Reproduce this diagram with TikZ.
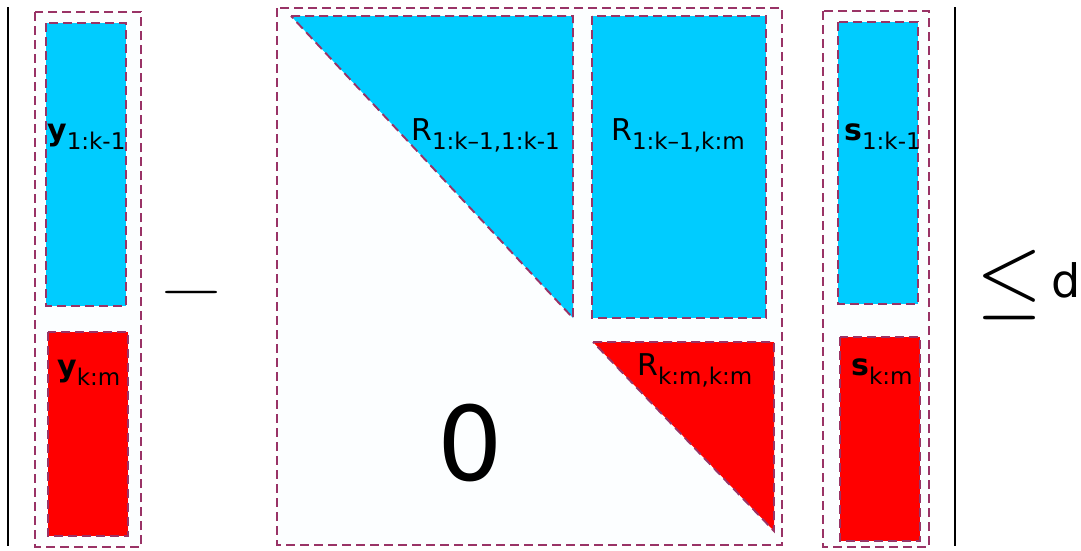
\documentclass[tikz,border=0pt]{standalone}
\usepackage{fontspec}
\setmainfont{DejaVu Sans}
\definecolor{blockblue}{RGB}{0,204,255}
\definecolor{blockred}{RGB}{255,0,0}
\definecolor{dashpurple}{RGB}{153,51,102}
\definecolor{paper}{RGB}{252,254,255}
\tikzset{
  frame/.style={draw=dashpurple, dash pattern=on 9pt off 5pt, line width=1.9pt},
  lbl/.style={anchor=base west, inner sep=0pt, font=\fontsize{30}{30}\selectfont},
}
\newcommand{\sublbl}[1]{\raisebox{-9pt}{\fontsize{23}{23}\selectfont #1}}
\begin{document}
\begin{tikzpicture}[x=1pt, y=-1pt]
  \useasboundingbox (0,0) rectangle (1081,550);
  % Betragsstriche
  \draw[line width=2.5pt] (8,7) -- (8,546);
  \draw[line width=2.5pt] (955,7) -- (955,546);
  % Vektor y
  \filldraw[frame, fill=paper] (35,12) rectangle (141,547);
  \filldraw[frame, fill=blockblue] (46,23) rectangle (126,306);
  \filldraw[frame, fill=blockred] (48,332) rectangle (128,536);
  \node[lbl] (ytop) at (47,140) {\textbf{y}\sublbl{1:k-1}};
  \node[lbl] (ybot) at (57,376) {\textbf{y}\sublbl{k:m}};
  % Minus
  \node[inner sep=0pt] (minus) at (192,292) {\scalebox{8.5}[6]{$-$}};
  % Matrix R (obere Dreiecksform)
  \filldraw[frame, fill=paper] (277,8) rectangle (782,545);
  \filldraw[frame, fill=blockblue] (291,16) -- (573,16) -- (573,318) -- cycle;
  \filldraw[frame, fill=blockblue] (592,16) rectangle (766,318);
  \filldraw[frame, fill=blockred] (593,342) -- (774,342) -- (774,531) -- cycle;
  \node[lbl] (rtl) at (411,140) {R\sublbl{1:k–1,1:k-1}};
  \node[lbl] (rtr) at (611,140) {R\sublbl{1:k–1,k:m}};
  \node[lbl] (rbr) at (637,375) {R\sublbl{k:m,k:m}};
  \node[anchor=base, inner sep=0pt, font=\fontsize{103}{103}\selectfont] (zero) at (470,480) {0};
  % Vektor s
  \filldraw[frame, fill=paper] (823,11) rectangle (929,547);
  \filldraw[frame, fill=blockblue] (838,22) rectangle (918,304);
  \filldraw[frame, fill=blockred] (840,337) rectangle (920,541);
  \node[lbl] (stop) at (844,140) {\textbf{s}\sublbl{1:k-1}};
  \node[lbl] (sbot) at (851,375) {\textbf{s}\sublbl{k:m}};
  % Schranke
  \node[inner sep=0pt] (leq) at (1010,285) {\scalebox{8.5}[9]{$\leq$}};
  \node[anchor=base west, inner sep=0pt, font=\fontsize{46}{46}\selectfont] (dist) at (1051,297) {d};
\end{tikzpicture}
\end{document}
